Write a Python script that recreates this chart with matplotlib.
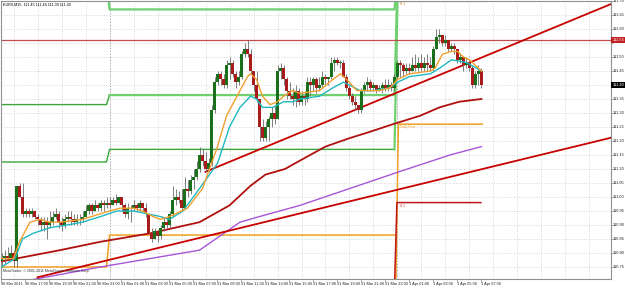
import numpy as np
import matplotlib
matplotlib.use("Agg")
import matplotlib.pyplot as plt

plt.rcParams["font.family"] = ["Liberation Sans", "DejaVu Sans"]

W, H, DPI = 625, 289, 100

# ---------------- data (EURX, M15) ----------------
first_open = 110.77
close = [110.78, 110.79, 110.78, 110.80, 110.77, 111.04, 111.00, 110.94, 110.95, 110.94,
         110.95, 110.93, 110.92, 110.90, 110.91, 110.90, 110.91, 110.93, 110.94, 110.91,
         110.90, 110.92, 110.93, 110.92, 110.91, 110.92, 110.92, 110.93, 110.95, 110.97,
         110.95, 110.97, 110.96, 110.98, 110.97, 110.98, 110.97, 110.99, 110.98, 111.00,
         110.97, 110.94, 110.96, 110.96, 110.97, 110.96, 110.98, 110.96, 110.94, 110.87,
         110.85, 110.88, 110.86, 110.89, 110.91, 110.90, 110.94, 110.99, 111.00, 110.99,
         110.96, 111.03, 111.02, 111.06, 111.07, 111.10, 111.15, 111.13, 111.10, 111.12,
         111.31, 111.41, 111.44, 111.42, 111.40, 111.47, 111.48, 111.44, 111.41, 111.43,
         111.51, 111.53, 111.51, 111.45, 111.40, 111.35, 111.25, 111.21, 111.25, 111.28,
         111.30, 111.28, 111.45, 111.46, 111.42, 111.38, 111.36, 111.35, 111.38, 111.34,
         111.36, 111.35, 111.41, 111.40, 111.42, 111.39, 111.40, 111.43, 111.42, 111.43,
         111.48, 111.49, 111.48, 111.48, 111.43, 111.39, 111.36, 111.34, 111.33, 111.31,
         111.38, 111.40, 111.41, 111.39, 111.40, 111.38, 111.39, 111.40, 111.39, 111.40,
         111.39, 111.43, 111.48, 111.47, 111.45, 111.46, 111.45, 111.47, 111.46, 111.48,
         111.46, 111.48, 111.47, 111.46, 111.53, 111.57, 111.58, 111.55, 111.56, 111.53,
         111.54, 111.53, 111.49, 111.50, 111.47, 111.48, 111.46, 111.40, 111.44, 111.45,
         111.40]
high = [110.80, 110.81, 110.82, 110.83, 110.81, 111.04, 111.05, 111.05, 110.96, 110.96,
        110.96, 110.95, 110.94, 110.93, 110.93, 110.93, 110.95, 110.95, 110.96, 110.95,
        110.93, 110.94, 110.95, 110.95, 110.94, 110.94, 110.94, 110.95, 110.97, 110.98,
        110.98, 110.99, 110.98, 110.99, 110.99, 111.00, 111.00, 111.00, 111.01, 111.00,
        111.00, 110.98, 110.98, 110.97, 110.99, 110.98, 110.99, 110.98, 110.98, 110.94,
        110.89, 110.89, 110.88, 110.90, 110.93, 110.93, 110.95, 111.04, 111.03, 111.02,
        111.03, 111.07, 111.06, 111.08, 111.10, 111.13, 111.18, 111.17, 111.16, 111.14,
        111.33, 111.43, 111.45, 111.45, 111.44, 111.49, 111.50, 111.49, 111.45, 111.45,
        111.52, 111.55, 111.56, 111.53, 111.45, 111.45, 111.35, 111.28, 111.27, 111.29,
        111.32, 111.33, 111.47, 111.48, 111.47, 111.43, 111.41, 111.39, 111.40, 111.39,
        111.38, 111.38, 111.43, 111.43, 111.43, 111.43, 111.43, 111.45, 111.44, 111.43,
        111.50, 111.50, 111.50, 111.49, 111.49, 111.44, 111.40, 111.37, 111.36, 111.33,
        111.39, 111.41, 111.43, 111.42, 111.41, 111.40, 111.40, 111.41, 111.42, 111.42,
        111.41, 111.44, 111.49, 111.49, 111.48, 111.48, 111.48, 111.50, 111.51, 111.50,
        111.51, 111.50, 111.51, 111.50, 111.54, 111.60, 111.60, 111.58, 111.58, 111.56,
        111.55, 111.55, 111.53, 111.51, 111.50, 111.50, 111.49, 111.47, 111.45, 111.47,
        111.46]
low = [110.75, 110.76, 110.77, 110.78, 110.75, 110.75, 111.00, 110.93, 110.93, 110.93,
       110.93, 110.92, 110.90, 110.88, 110.88, 110.85, 110.89, 110.90, 110.92, 110.89,
       110.88, 110.89, 110.91, 110.90, 110.90, 110.90, 110.90, 110.91, 110.93, 110.94,
       110.94, 110.95, 110.95, 110.95, 110.95, 110.96, 110.96, 110.97, 110.97, 110.98,
       110.95, 110.93, 110.92, 110.91, 110.95, 110.95, 110.95, 110.95, 110.93, 110.87,
       110.84, 110.85, 110.84, 110.85, 110.88, 110.89, 110.89, 110.93, 110.97, 110.98,
       110.95, 110.96, 111.00, 111.01, 111.03, 111.06, 111.09, 111.11, 111.09, 111.09,
       111.11, 111.30, 111.40, 111.40, 111.39, 111.39, 111.42, 111.43, 111.39, 111.40,
       111.42, 111.50, 111.50, 111.44, 111.38, 111.34, 111.20, 111.20, 111.20, 111.20,
       111.25, 111.26, 111.28, 111.42, 111.40, 111.35, 111.35, 111.33, 111.32, 111.33,
       111.33, 111.33, 111.34, 111.36, 111.38, 111.37, 111.38, 111.39, 111.40, 111.40,
       111.42, 111.45, 111.47, 111.46, 111.43, 111.38, 111.35, 111.33, 111.31, 111.30,
       111.30, 111.37, 111.38, 111.38, 111.38, 111.37, 111.38, 111.37, 111.38, 111.38,
       111.38, 111.38, 111.42, 111.43, 111.43, 111.44, 111.44, 111.45, 111.45, 111.45,
       111.45, 111.45, 111.45, 111.45, 111.45, 111.53, 111.55, 111.54, 111.54, 111.52,
       111.52, 111.51, 111.48, 111.48, 111.45, 111.46, 111.45, 111.39, 111.39, 111.40,
       111.39]

time_labels = ["30 Mar 2011", "30 Mar 17:00", "30 Mar 19:00", "30 Mar 21:00", "30 Mar 23:00",
               "31 Mar 01:00", "31 Mar 03:00", "31 Mar 05:00", "31 Mar 07:00", "31 Mar 09:00",
               "31 Mar 11:00", "31 Mar 13:00", "31 Mar 15:00", "31 Mar 17:00", "31 Mar 19:00",
               "31 Mar 21:00", "31 Mar 23:00", "1 Apr 01:00", "1 Apr 03:00", "1 Apr 05:00",
               "1 Apr 07:00"]
bars_per_label = 8
price_ticks = [110.75, 110.80, 110.85, 110.90, 110.95, 111.00, 111.05, 111.10, 111.15, 111.20,
               111.25, 111.30, 111.35, 111.40, 111.45, 111.50, 111.55, 111.60, 111.65, 111.70]

# moving averages (bar index, price)
ma_fast_x = [0, 4, 6, 9.5, 13, 16, 19.5, 27, 33, 36, 39.5, 44, 47, 50.5, 53, 56, 62, 67, 72, 75,
             78.5, 82, 83, 85, 87, 89.5, 92, 94, 97, 99.5, 106, 110.5, 113, 115, 118.5, 122, 126,
             129.5, 132, 136, 143, 144.5, 147, 150, 152, 154, 156, 160]
ma_fast_y = [110.78, 110.78, 110.84, 110.91, 110.92, 110.91, 110.91, 110.92, 110.94, 110.95,
             110.96, 110.96, 110.95, 110.93, 110.92, 110.93, 110.96, 111.03, 111.18, 111.29,
             111.36, 111.43, 111.44, 111.42, 111.36, 111.33, 111.34, 111.36, 111.38, 111.37,
             111.38, 111.42, 111.44, 111.42, 111.38, 111.38, 111.38, 111.39, 111.42, 111.44,
             111.45, 111.46, 111.51, 111.52, 111.52, 111.50, 111.49, 111.45]
ma_mid_x = [0, 4.5, 7, 10.5, 16, 22, 27, 33, 38.5, 44, 48.5, 53, 56, 60.5, 66, 72, 76, 79.5, 83,
            85, 87, 90.5, 94, 97, 99.5, 106, 110.5, 114, 116, 119.5, 124, 129.5, 132, 136, 143,
            146, 150, 155, 160]
ma_mid_y = [110.75, 110.78, 110.85, 110.87, 110.89, 110.90, 110.91, 110.93, 110.95, 110.95,
            110.94, 110.93, 110.92, 110.95, 111.03, 111.12, 111.25, 111.32, 111.36, 111.35,
            111.32, 111.32, 111.34, 111.34, 111.35, 111.36, 111.39, 111.41, 111.40, 111.38,
            111.38, 111.39, 111.41, 111.43, 111.44, 111.46, 111.49, 111.48, 111.45]
ma_slow_x = [0, 19.5, 33, 49.5, 66, 76, 83, 88, 94.5, 99.5, 108, 116, 122, 130.5, 139.5, 146,
             152.5, 160]
ma_slow_y = [110.77, 110.81, 110.84, 110.87, 110.91, 110.97, 111.04, 111.08, 111.10, 111.13,
             111.18, 111.21, 111.23, 111.26, 111.29, 111.32, 111.34, 111.35]
ma_long_x = [8, 33, 49.5, 66, 79.5, 86, 99.5, 116, 132.5, 149.5, 160]
ma_long_y = [110.70, 110.75, 110.78, 110.81, 110.91, 110.93, 110.97, 111.03, 111.09, 111.15,
             111.18]

# daily levels (days start at bars 0, 36, 132)
day_starts = [0, 36, 132, 161]
green_top = [111.78, 111.67, 111.80]
green_mid = [111.33, 111.364, 111.78]
green_low = [111.125, 111.17, 111.70]
orange_lvl = [110.75, 110.864]
orange_new = [110.60, 111.26]
red_new = [110.60, 110.98]

trend_up = [(68, 111.09), (160.5, 111.50)]
trend_low = [(12, 110.713), (160, 111.099)]
resist_level = 111.56
last_price = 111.40
title = "EURX,M15  111.45 111.46 111.39 111.40"
copyright_text = "MetaTrader, \u00a9 2001-2011 MetaQuotes Software Corp."

# ---------------- figure ----------------
fig = plt.figure(figsize=(W / DPI, H / DPI), dpi=DPI)
fig.patch.set_facecolor("white")
ax = fig.add_axes([1 / W, 10 / H, 610 / W, 278 / H])
ax.set_facecolor("white")
x_left, x_right = -0.17, 203.17
ax.set_xlim(x_left, x_right)
ax.set_ylim(110.707, 111.70)
ax.set_xticks([])
ax.set_yticks([])
for s in ax.spines.values():
    s.set_color("#909090")
    s.set_linewidth(0.8)

n = len(close)
idx = np.arange(n)
c = np.array(close)
o = np.concatenate([[first_open], c[:-1]])
h = np.array(high)
l = np.array(low)

# grid
for gx in np.arange(4, x_right, 8):
    ax.axvline(gx, color="#c8c8c8", lw=0.6, ls=(0, (1, 2)), zorder=0)
for gy in price_ticks:
    ax.axhline(gy, color="#c8c8c8", lw=0.6, ls=(0, (1, 2)), zorder=0)
for sep in day_starts[1:3]:
    ax.axvline(sep, color="#a0a0a0", lw=0.7, ls=(0, (1, 2)), zorder=0)


def expand(levels):
    out = np.full(n, np.nan)
    for k, v in enumerate(levels):
        a, b = day_starts[k], min(day_starts[k + 1], n)
        out[a:b] = v
    return out


# daily level step lines
gt = expand(green_top)
gm = expand(green_mid)
gl = expand(green_low)
ax.plot(idx, gt, color="#6fd06f", lw=1.6, zorder=2)
ax.plot(idx[:37], gm[:37], color="#3aa63a", lw=1.0, zorder=2)
ax.plot(idx[36:], gm[36:], color="#6fd06f", lw=1.6, zorder=2)
ax.plot(idx[:132], gl[:132], color="#3aa63a", lw=1.0, zorder=2)
ax.plot(idx[131:], gl[131:], color="#6fd06f", lw=1.6, zorder=2)
ol = expand(orange_lvl)
ax.plot(idx[:132], ol[:132], color="#f0a020", lw=1.1, zorder=2)
on = np.array([orange_new[0]] + [orange_new[1]] * (n - 132))
ax.plot(np.arange(131, n) + 0.3, on, color="#f0a020", lw=1.1, zorder=2)
rn = np.array([red_new[0]] + [red_new[1]] * (n - 132))
ax.plot(np.arange(131, n) - 0.2, rn, color="#c01818", lw=1.1, zorder=2)
ax.text(133, orange_new[1] - 0.011, "Daily Pivot", color="#f0a020", fontsize=2.3, va="center")
ax.text(133, red_new[1] - 0.013, "S 1", color="#c01818", fontsize=2.3, va="center")
ax.text(133, 111.688, "R 1", color="#e07020", fontsize=2.3, va="center")

# resistance horizontal
ax.axhline(resist_level, color="#c05050", lw=0.9, zorder=2)

# moving averages
ax.plot(ma_long_x, ma_long_y, color="#a855d8", lw=1.0, zorder=3)
ax.plot(ma_slow_x, ma_slow_y, color="#b01010", lw=1.3, zorder=3)

# trend lines extended to the right
for (xa, ya), (xb, yb) in (trend_up, trend_low):
    k = (yb - ya) / (xb - xa)
    ax.plot([xa, x_right], [ya, ya + k * (x_right - xa)], color="#c80000", lw=1.3, zorder=3)

# candles
up = c >= o
ax.vlines(idx, np.minimum(l, np.minimum(o, c)), np.maximum(h, np.maximum(o, c)),
          color="#6a6a6a", lw=0.6, zorder=4)
body_lo = np.minimum(o, c)
body_h = np.maximum(np.abs(c - o), 0.002)
ax.bar(idx[up], body_h[up], bottom=body_lo[up], width=0.7, color="#1a701a", lw=0, zorder=5)
ax.bar(idx[~up], body_h[~up], bottom=body_lo[~up], width=0.7, color="#a81c1c", lw=0, zorder=5)

ax.plot(ma_mid_x, ma_mid_y, color="#20b8c0", lw=1.0, zorder=6)
ax.plot(ma_fast_x, ma_fast_y, color="#f0a030", lw=1.0, zorder=6)

# texts (axes-fraction positions)
ax.text(0.004, 0.993, title, transform=ax.transAxes, fontsize=2.7, va="top", ha="left",
        color="black")
ax.text(0.004, 0.027, copyright_text, transform=ax.transAxes, fontsize=2.6, va="center",
        ha="left", color="#333333")

# price axis labels (boxes cover the nearby regular labels)
trans = ax.get_yaxis_transform()
for p in price_ticks:
    ax.plot([1.0, 1.004], [p, p], transform=trans, color="#909090", lw=0.5, clip_on=False)
    if min(abs(p - resist_level), abs(p - last_price)) < 0.02:
        continue
    ax.text(1.003, p, f"{p:.2f}", transform=trans, fontsize=2.9, va="center", ha="left",
            color="#222222", clip_on=False)
for lvl, fc in ((resist_level, "#c02020"), (last_price, "black")):
    ax.text(1.002, lvl, f"{lvl:.2f}", transform=trans, fontsize=2.9, va="center",
            ha="left", color="white", clip_on=False,
            bbox=dict(boxstyle="square,pad=0.2", fc=fc, ec="none"))

# time axis labels
xtrans = ax.get_xaxis_transform()
for k, lab in enumerate(time_labels):
    xb = k * bars_per_label
    ax.text(xb - 0.2, -0.012, lab, transform=xtrans, fontsize=2.8, va="top", ha="left",
            color="#222222", clip_on=False)
    ax.plot([xb - 0.2, xb - 0.2], [0, -0.012], transform=xtrans, color="#909090", lw=0.5,
            clip_on=False)

fig.savefig("out.png", dpi=DPI, facecolor="white")
